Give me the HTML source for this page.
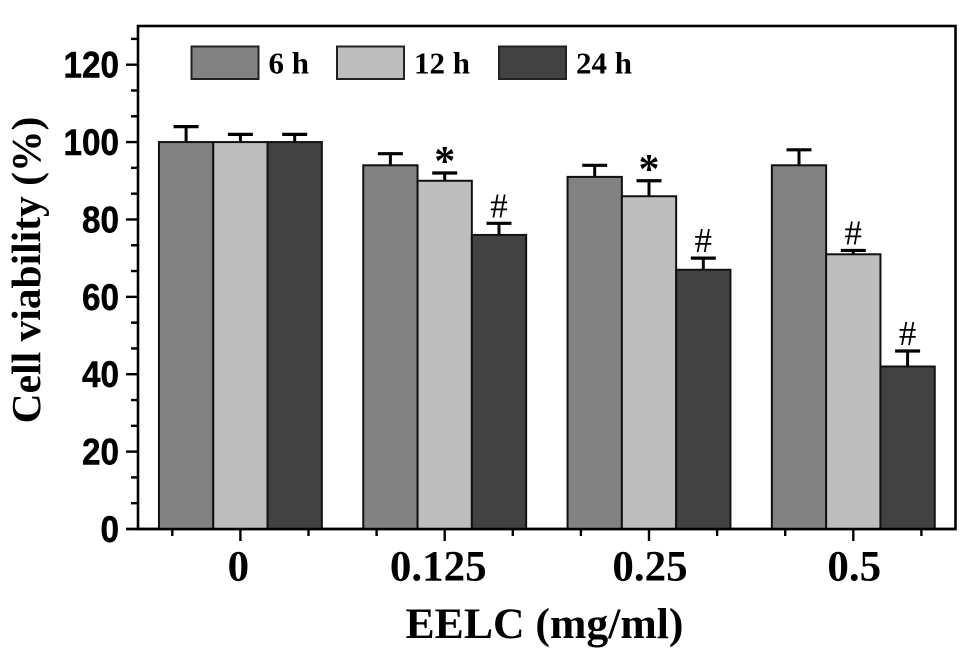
<!DOCTYPE html>
<html>
<head>
<meta charset="utf-8">
<title>Cell viability chart</title>
<style>
html,body{margin:0;padding:0;background:#fff;width:969px;height:661px;overflow:hidden}
svg{display:block}
.yl{font-family:"Liberation Sans",sans-serif;font-weight:bold;font-size:37px;text-anchor:end;stroke:#000;stroke-width:.5px}
.xl{font-family:"Liberation Serif",serif;font-weight:bold;font-size:43px;text-anchor:middle}
.title{font-family:"Liberation Serif",serif;font-weight:bold;font-size:43.7px;text-anchor:middle}
.ytitle{font-family:"Liberation Serif",serif;font-weight:bold;font-size:41.5px;text-anchor:middle}
.leg{font-family:"Liberation Serif",serif;font-weight:bold;font-size:31px}
</style>
</head>
<body>
<svg id="chart" xmlns="http://www.w3.org/2000/svg" width="969" height="661" viewBox="0 0 969 661">
  <rect x="138" y="26" width="817.5" height="503" fill="#fff" stroke="#000" stroke-width="2.6"/>
  <g id="marks"></g>
  <g id="axes"></g>
  <g id="legend"></g>
  <text class="title" x="544.5" y="638">EELC (mg/ml)</text>
  <text class="ytitle" transform="translate(40 270) rotate(-90)">Cell viability (%)</text>
</svg>
<script>
const categories = ['0', '0.125', '0.25', '0.5'];
const seriesNames = ['6 h', '12 h', '24 h'];
const values6h = [100, 94, 91, 94];
const values12h = [100, 90, 86, 71];
const values24h = [100, 76, 67, 42];
const errors6h = [4, 3, 3, 4];
const errors12h = [2, 2, 4, 1];
const errors24h = [2, 3, 3, 4];
const marks6h = ['', '', '', ''];
const marks12h = ['', '*', '*', '#'];
const marks24h = ['', '#', '#', '#'];
const yTicks = [0, 20, 40, 60, 80, 100, 120];

const SVGNS = 'http://www.w3.org/2000/svg';
const fills = ['#828282', '#bebebe', '#424242'];
const yMax = 130, y0 = 529, yTop = 26;
const x0 = 240.4, groupStep = 204.3, barW = 54.3;
const xLabelNudge = [-2, -6.5, 1, 1];
const yScale = v => y0 - (v / yMax) * (y0 - yTop);
const xCenter = i => x0 + i * groupStep;
const barLeft = (i, s) => xCenter(i) + (s - 1.5) * barW;

function mk(parent, tag, attrs, text) {
  const el = document.createElementNS(SVGNS, tag);
  for (const k in attrs) el.setAttribute(k, attrs[k]);
  if (text !== undefined) el.textContent = text;
  parent.appendChild(el);
  return el;
}

const marksG = document.getElementById('marks');
const axesG = document.getElementById('axes');
const legendG = document.getElementById('legend');
const allValues = [values6h, values12h, values24h];
const allErrors = [errors6h, errors12h, errors24h];
const allMarks = [marks6h, marks12h, marks24h];

categories.forEach((cat, i) => {
  allValues.forEach((vals, s) => {
    const left = barLeft(i, s);
    const cx = left + barW / 2;
    const top = yScale(vals[i]);
    const errTop = yScale(vals[i] + allErrors[s][i]);

    const stem = mk(marksG, 'line', {x1: cx, x2: cx, y1: top, y2: errTop, stroke: '#000', 'stroke-width': 3});
    
    

    const cap = mk(marksG, 'line', {x1: cx - 12.5, x2: cx + 12.5, y1: errTop, y2: errTop, stroke: '#000', 'stroke-width': 3.2});
    
    

    const bar = mk(marksG, 'rect', {x: left, y: top, width: barW, height: y0 - top, fill: fills[s], stroke: '#111', 'stroke-width': 2});
    
    

    const m = allMarks[s][i];
    if (m) {
      const star = m === '*';
      const note = mk(marksG, 'text', {
        x: cx, y: errTop + (star ? 2 : -6),
        'text-anchor': 'middle',
        'font-family': '"Liberation Serif", serif',
        'font-weight': star ? 'bold' : 'normal',
        'font-size': star ? 42 : 35
      }, m);
      
      
    }
  });
});

// y axis ticks: major every 20, two minor ticks between
const yStep = yTicks[1] - yTicks[0];
for (let k = 0; yStep * k / 3 < yMax; k++) {
  const v = yStep * k / 3;
  const major = k % 3 === 0;
  const yp = yScale(v);
  const t = mk(axesG, 'line', {x1: major ? 126 : 131, x2: 138, y1: yp, y2: yp, stroke: '#000', 'stroke-width': 2.4});
  
  
}
yTicks.forEach(v => {
  const l = mk(axesG, 'text', {class: 'yl', transform: 'translate(119 ' + (yScale(v) + 13) + ') scale(0.9 1)'}, v);
  
  
});

// x axis ticks: major at each category, minor at thirds between
for (let k = -1; k <= 10; k++) {
  const xp = x0 + k * groupStep / 3;
  const major = (k + 3) % 3 === 0;
  const t = mk(axesG, 'line', {x1: xp, x2: xp, y1: y0, y2: major ? 541 : 536, stroke: '#000', 'stroke-width': 2.4});
  
  
}
categories.forEach((cat, i) => {
  const l = mk(axesG, 'text', {class: 'xl', x: xCenter(i) + xLabelNudge[i], y: 580.5}, cat);
  
  
});

// legend
const legendX = [191.5, 337, 499];
seriesNames.forEach((name, s) => {
  const r = mk(legendG, 'rect', {x: legendX[s], y: 46.5, width: 67, height: 32.5, fill: fills[s], stroke: '#222', 'stroke-width': 2});
  
  
  const t = mk(legendG, 'text', {class: 'leg', x: legendX[s] + 77, y: 73.5}, name);
  
  
});

// baseline stub to the left of frame and on top of the bars
const base = mk(axesG, 'line', {x1: 126, x2: 955.5, y1: y0, y2: y0, stroke: '#000', 'stroke-width': 2.6});


</script>
</body>
</html>
